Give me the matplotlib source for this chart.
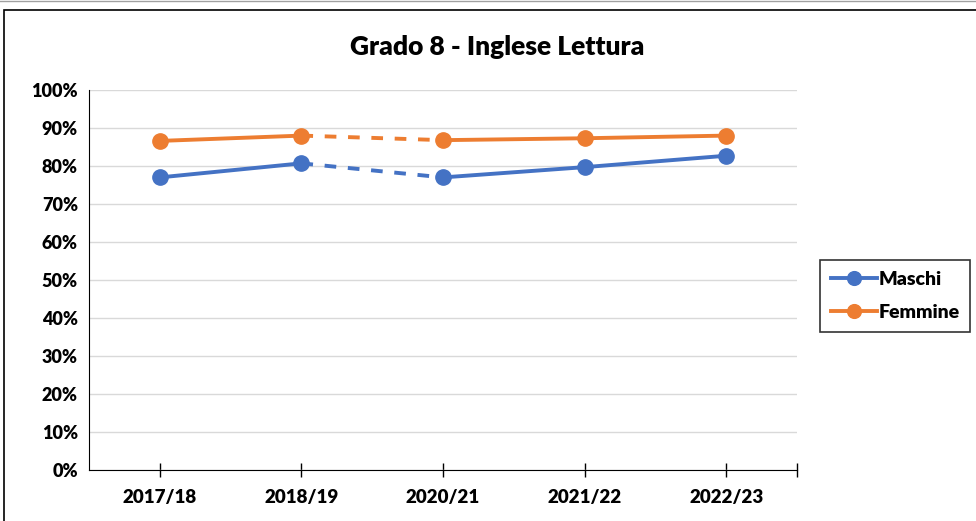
import matplotlib.pyplot as plt
from matplotlib.patches import Rectangle
from matplotlib.ticker import FuncFormatter

# Dati
anni = ["2017/18", "2018/19", "2020/21", "2021/22", "2022/23"]
maschi = [77.0, 80.7, 77.0, 79.7, 82.7]
femmine = [86.6, 88.0, 86.8, 87.3, 88.0]

blu = "#4472C4"
arancio = "#ED7D31"

plt.rcParams["font.family"] = ["Lato", "DejaVu Sans"]
plt.rcParams["font.weight"] = "bold"

fig = plt.figure(figsize=(9.76, 5.21), dpi=100)

# cornice del grafico
fig.add_artist(Rectangle((4 / 976, -0.05), 1.2, (521 - 10) / 521 + 0.05,
                         transform=fig.transFigure, fill=False,
                         edgecolor="black", linewidth=1.2))
fig.add_artist(plt.Line2D([0, 1], [1 - 1 / 521, 1 - 1 / 521], transform=fig.transFigure,
                          color="#a0a0a0", linewidth=1))

ax = fig.add_axes([89 / 976, 51 / 521, (797 - 89) / 976, 380 / 521])

x = list(range(len(anni)))


def disegna(valori, colore, etichetta):
    # tratto continuo prima e dopo il 2019/20, tratteggiato nel salto
    ax.plot(x[:2], valori[:2], color=colore, linewidth=2.8, marker="o",
            markersize=11, label=etichetta, zorder=3)
    ax.plot(x[1:3], valori[1:3], color=colore, linewidth=2.8, linestyle=(0, (3, 3)),
            zorder=2)
    ax.plot(x[2:], valori[2:], color=colore, linewidth=2.8, marker="o",
            markersize=11, zorder=3)


disegna(maschi, blu, "Maschi")
disegna(femmine, arancio, "Femmine")

ax.set_xlim(-0.5, 4.5)
ax.set_ylim(0, 100)
ax.set_yticks(range(0, 101, 10))
ax.yaxis.set_major_formatter(FuncFormatter(lambda v, p: f"{int(v)}%"))
ax.set_xticks(x)
ax.set_xticklabels(anni)
ax.set_xticks([4.5], minor=True)
ax.tick_params(axis="x", which="both", direction="inout", length=10, width=1,
               labelsize=13.5, pad=9)
ax.tick_params(axis="y", length=0, labelsize=13, pad=8)
for lab in ax.get_xticklabels() + ax.get_yticklabels():
    lab.set_fontweight("heavy")

ax.grid(axis="y", color="#d9d9d9", linewidth=1)
ax.set_axisbelow(True)
for s in ["top", "right"]:
    ax.spines[s].set_visible(False)
ax.spines["left"].set_color("black")
ax.spines["bottom"].set_color("black")

fig.text(497 / 976, 1 - 47 / 521, "Grado 8 - Inglese Lettura", ha="center",
         va="center", fontsize=19, fontweight="heavy")

leg = fig.legend(loc="center left", bbox_to_anchor=(820 / 976, 1 - 296 / 521),
                 frameon=True, fancybox=False, edgecolor="black", fontsize=14,
                 handlelength=2.4, handletextpad=0.05, borderpad=0.55, labelspacing=0.85,
                 borderaxespad=0, markerscale=0.9)
leg.get_frame().set_linewidth(1.2)
for t in leg.get_texts():
    t.set_fontweight("heavy")

fig.savefig("out.png", dpi=100)
